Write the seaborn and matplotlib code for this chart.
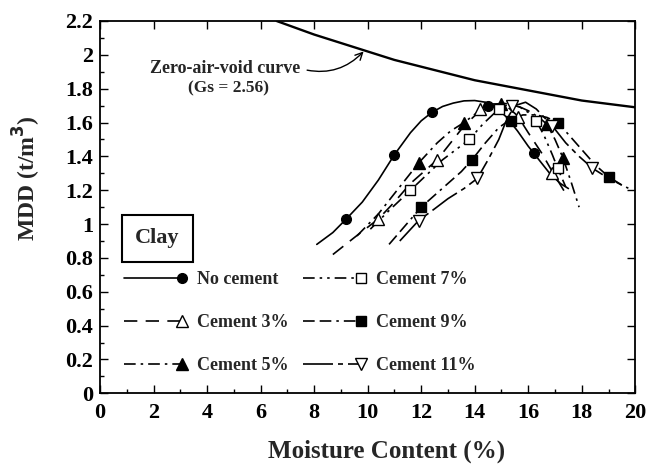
import numpy as np
import matplotlib
matplotlib.use("Agg")
import matplotlib.pyplot as plt
import seaborn as sns
from matplotlib.lines import Line2D
from matplotlib.legend_handler import HandlerLine2DCompound

# ---------------- data ----------------
zav_x = [6.6, 8.0, 9.0, 10.0, 11.0, 12.0, 13.0, 14.0, 15.0, 16.0, 17.0, 18.0, 19.0, 20.0]
zav_y = [2.20, 2.12, 2.07, 2.02, 1.97, 1.93, 1.89, 1.85, 1.82, 1.79, 1.76, 1.73, 1.71, 1.69]

labels = ["No cement", "Cement 3%", "Cement 5%", "Cement 7%", "Cement 9%", "Cement 11%"]

# measured points
pts_x = {
    "No cement":  [9.2, 11.0, 12.4, 14.5, 16.2],
    "Cement 3%":  [10.4, 12.6, 14.2, 15.6, 16.9],
    "Cement 5%":  [11.9, 13.6, 15.0, 16.7, 17.3],
    "Cement 7%":  [11.6, 13.8, 14.9, 16.3, 17.1],
    "Cement 9%":  [12.0, 13.9, 15.35, 17.1, 19.0],
    "Cement 11%": [11.9, 14.1, 15.4, 16.9, 18.4],
}
pts_y = {
    "No cement":  [1.03, 1.41, 1.66, 1.70, 1.42],
    "Cement 3%":  [1.03, 1.38, 1.68, 1.63, 1.30],
    "Cement 5%":  [1.36, 1.60, 1.71, 1.59, 1.39],
    "Cement 7%":  [1.20, 1.50, 1.68, 1.61, 1.33],
    "Cement 9%":  [1.10, 1.38, 1.61, 1.60, 1.28],
    "Cement 11%": [1.02, 1.27, 1.70, 1.58, 1.33],
}
# fitted curves
crv_x = {
    "No cement":  [8.1, 8.7, 9.2, 9.8, 10.4, 11.0, 11.6, 12.0, 12.4, 12.8, 13.2, 13.6, 14.0,
                   14.4, 14.8, 15.2, 15.6, 16.0, 16.4, 16.8, 17.2, 17.5],
    "Cement 3%":  [8.7, 9.5, 10.4, 11.0, 11.6, 12.1, 12.6, 13.1, 13.6, 14.2, 14.7, 15.1,
                   15.6, 16.0, 16.5, 16.9, 17.4],
    "Cement 5%":  [9.6, 10.4, 11.2, 11.9, 12.6, 13.1, 13.6, 14.1, 14.6, 15.0, 15.5, 16.0,
                   16.4, 16.7, 17.0, 17.3, 17.6, 17.9],
    "Cement 7%":  [10.1, 10.8, 11.6, 12.2, 12.8, 13.3, 13.8, 14.3, 14.9, 15.3, 15.7, 16.0,
                   16.3, 16.6, 16.9, 17.1, 17.4],
    "Cement 9%":  [10.8, 11.4, 12.0, 12.5, 13.0, 13.5, 13.9, 14.4, 14.9, 15.35, 15.8, 16.3,
                   16.7, 17.1, 17.5, 18.0, 18.5, 19.0, 19.5, 19.9],
    "Cement 11%": [11.2, 11.9, 12.5, 13.0, 13.6, 14.1, 14.5, 14.9, 15.2, 15.5, 15.9, 16.3,
                   16.9, 17.4, 17.9, 18.4, 18.9, 19.5],
}
crv_y = {
    "No cement":  [0.88, 0.95, 1.03, 1.13, 1.26, 1.41, 1.54, 1.61, 1.66, 1.695, 1.715, 1.728,
                   1.73, 1.72, 1.69, 1.63, 1.55, 1.46, 1.38, 1.30, 1.24, 1.21],
    "Cement 3%":  [0.82, 0.92, 1.03, 1.13, 1.24, 1.31, 1.38, 1.48, 1.58, 1.67, 1.71, 1.71,
                   1.64, 1.54, 1.42, 1.31, 1.18],
    "Cement 5%":  [0.93, 1.06, 1.22, 1.36, 1.48, 1.55, 1.60, 1.66, 1.70, 1.715, 1.705, 1.67,
                   1.63, 1.59, 1.50, 1.39, 1.25, 1.10],
    "Cement 7%":  [0.97, 1.08, 1.20, 1.29, 1.38, 1.44, 1.50, 1.59, 1.68, 1.71, 1.69, 1.66,
                   1.61, 1.52, 1.41, 1.33, 1.22],
    "Cement 9%":  [0.88, 0.99, 1.10, 1.17, 1.24, 1.31, 1.38, 1.48, 1.57, 1.62, 1.645, 1.645,
                   1.63, 1.60, 1.53, 1.44, 1.35, 1.28, 1.23, 1.20],
    "Cement 11%": [0.90, 1.02, 1.09, 1.15, 1.21, 1.27, 1.38, 1.50, 1.62, 1.70, 1.72, 1.68,
                   1.58, 1.48, 1.40, 1.33, 1.28, 1.23],
}

xticks = list(range(0, 21, 2))
yticks = [0, 0.2, 0.4, 0.6, 0.8, 1, 1.2, 1.4, 1.6, 1.8, 2, 2.2]

# ---------------- styles ----------------
style = {
    "No cement":  dict(ls="-",                          marker="o", fill=True,  ms=7),
    "Cement 3%":  dict(ls=(0, (8, 5)),                  marker="^", fill=False, ms=8),
    "Cement 5%":  dict(ls=(0, (7, 3, 1.5, 3)),          marker="^", fill=True,  ms=8),
    "Cement 7%":  dict(ls=(0, (7, 3, 1.5, 3, 1.5, 3)),  marker="s", fill=False, ms=7),
    "Cement 9%":  dict(ls=(0, (7, 3, 7, 3, 1.5, 3)),    marker="s", fill=True,  ms=7),
    "Cement 11%": dict(ls=(0, (18, 3, 3, 3)),           marker="v", fill=False, ms=8),
}

sns.set_theme(style="ticks")
plt.rcParams["font.family"] = ["Liberation Serif", "DejaVu Serif"]
plt.rcParams["font.weight"] = "bold"
plt.rcParams["mathtext.default"] = "bf"

fig = plt.figure(figsize=(6.51, 4.66), dpi=100)
ax = fig.add_axes([100 / 651, 1 - 393.3 / 466, 535.3 / 651, 372.3 / 466])

# zero-air-void curve
sns.lineplot(x=zav_x, y=zav_y, ax=ax, color="black", lw=1.7, sort=False)

for lab in labels:
    st = style[lab]
    sns.lineplot(x=crv_x[lab], y=crv_y[lab], ax=ax, color="black", lw=1.2,
                 linestyle=st["ls"], sort=False)
    ax.plot(pts_x[lab], pts_y[lab], linestyle="none", marker=st["marker"],
            ms=st["ms"], mfc="black" if st["fill"] else "white", mec="black",
            mew=1.0, zorder=5)

ax.set_xlim(0, 20)
ax.set_ylim(0, 2.2)
ax.set_xticks(xticks)
ax.set_yticks(yticks)
ax.set_xticks(np.arange(0, 20.1, 1), minor=True)
ax.set_yticks(np.arange(0, 2.21, 0.1), minor=True)
ax.set_yticklabels(["%g" % v for v in yticks])
ax.tick_params(which="both", direction="in", top=True, right=True, colors="black",
               labelsize=16, width=1.0)
ax.tick_params(which="major", length=6)
ax.tick_params(which="minor", length=3)
ax.tick_params(axis="x", which="minor", top=False)
ax.tick_params(axis="y", which="minor", right=False)
ax.tick_params(axis="x", pad=7)
ax.tick_params(axis="y", pad=5)
for lbl in ax.get_xticklabels() + ax.get_yticklabels():
    lbl.set_fontweight("bold")
for sp in ax.spines.values():
    sp.set_linewidth(1.3)
    sp.set_color("black")

ax.set_xlabel("Moisture Content (%)", fontsize=18, fontweight="bold")
ax.set_ylabel(r"MDD (t/m$^3$)", fontsize=17, fontweight="bold")
ax.xaxis.set_label_coords(0.535, -0.125)
ax.yaxis.set_label_coords(-0.106, 0.578)

# annotation of ZAV curve
ax.annotate("Zero-air-void curve", xy=(9.85, 2.02), xytext=(1.85, 1.92),
            fontsize=13, fontweight="bold", ha="left", va="center",
            arrowprops=dict(arrowstyle="->", color="black", lw=1.0, relpos=(1.0, 0.5),
                            connectionstyle="arc3,rad=0.3", shrinkA=3, shrinkB=0))
ax.text(4.8, 1.80, "(Gs = 2.56)", fontsize=12.5, fontweight="bold", ha="center", va="center")

# Clay box
ax.text(2.15, 0.916, "Clay", fontsize=16, fontweight="bold", ha="center", va="center",
        bbox=dict(boxstyle="square,pad=0.6", fc="white", ec="black", lw=1.5))

# legend with markers at the right end of the line sample
class EndMarker(HandlerLine2DCompound):
    def get_xdata(self, legend, xdescent, ydescent, width, height, fontsize):
        xdata = np.array([-xdescent, -xdescent + width])
        return xdata, np.array([-xdescent + width])

handles = []
for lab in labels:
    st = style[lab]
    handles.append(Line2D([], [], color="black", lw=1.2, linestyle=st["ls"],
                          marker=st["marker"], ms=st["ms"],
                          mfc="black" if st["fill"] else "white", mec="black"))
leg = ax.legend(handles, labels, ncol=2, loc="upper left",
                bbox_to_anchor=((126 - 101.7) / 535.3, (393.3 - 271) / 372.3),
                frameon=False, fontsize=13, handlelength=3.2, handletextpad=0.8,
                labelspacing=1.45, columnspacing=0.85, borderpad=0, borderaxespad=0,
                handler_map={Line2D: EndMarker()})
for t in leg.get_texts():
    t.set_fontweight("bold")

fig.savefig("out.png", dpi=100)
